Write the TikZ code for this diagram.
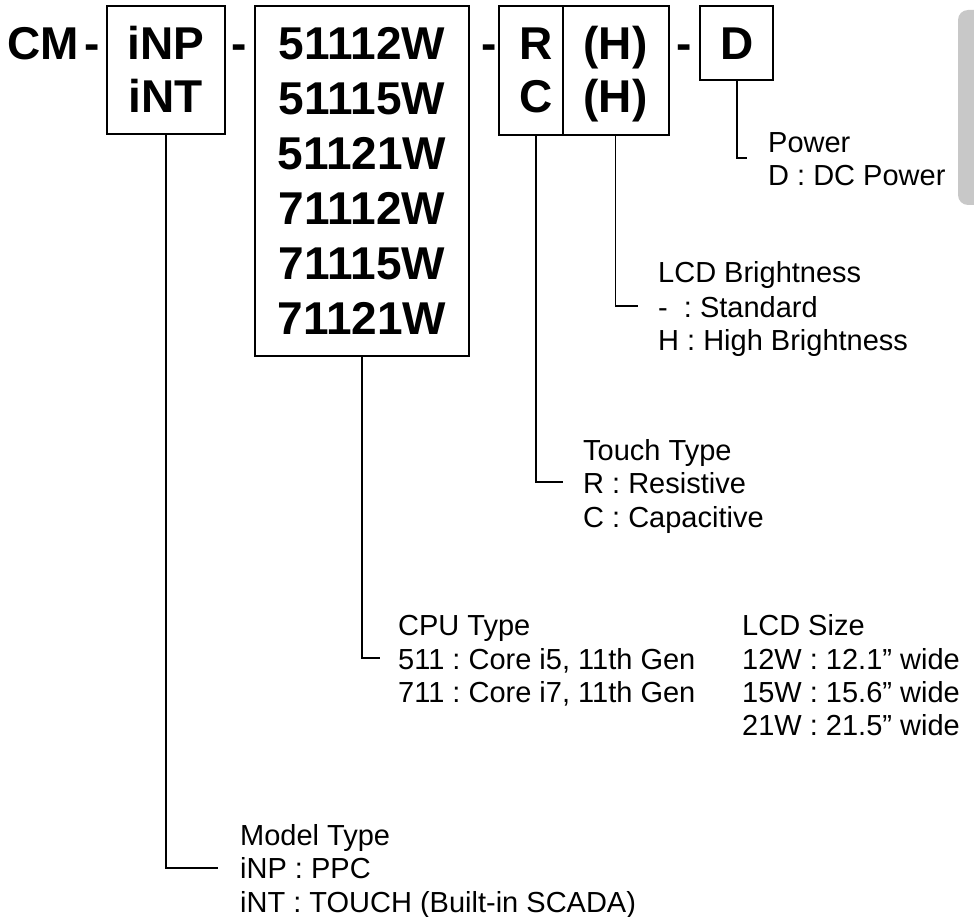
\documentclass[tikz,border=0pt]{standalone}
\usepackage{fontspec}
\setmainfont{Liberation Sans}
\definecolor{tabgray}{RGB}{200,200,200}
\frenchspacing
\begin{document}
\begin{tikzpicture}[x=1pt,y=-1pt,
  boxst/.style={draw, line width=1.4pt, inner sep=0pt},
  big/.style={font=\fontsize{46}{53}\selectfont\bfseries, inner sep=0pt, anchor=base},
  lbl/.style={font=\fontsize{29}{33}\selectfont, inner sep=0pt, anchor=base west},
  conn/.style={draw, line width=1.4pt}]
\useasboundingbox (0,0) rectangle (974,917);
\begin{scope}
\clip (0,0) rectangle (974,917);
\fill[tabgray, rounded corners=10pt] (958,10) rectangle (1000,205);
\end{scope}
% boxes
\node[boxst, minimum width=118pt, minimum height=128pt] (b1) at (166,70) {};
\node[boxst, minimum width=214pt, minimum height=350pt] (b2) at (362,181) {};
\node[boxst, minimum width=64pt, minimum height=129pt] (bR) at (531,70.5) {};
\node[boxst, minimum width=106pt, minimum height=129pt] (bH) at (616,70.5) {};
\node[boxst, minimum width=73pt, minimum height=74pt] (bD) at (736.5,43) {};
% big texts
\node[big, anchor=base west] (tCM) at (7.5,60) {CM};
\node[big, anchor=base west] (d1) at (84,60) {-};
\node[big, anchor=base west] (d2) at (231,60) {-};
\node[big, anchor=base west] (d3) at (481,60) {-};
\node[big, anchor=base west] (d4) at (676,60) {-};
\node[big] (tiNP) at (166,60) {iNP};
\node[big] (tiNT) at (166,113) {iNT};
\node[big] (m1) at (362,60) {51112W};
\node[big] (m2) at (362,114.8) {51115W};
\node[big] (m3) at (362,169.6) {51121W};
\node[big] (m4) at (362,224.4) {71112W};
\node[big] (m5) at (362,279.2) {71115W};
\node[big] (m6) at (362,334) {71121W};
\node[big] (tR) at (536,60) {R};
\node[big] (tC) at (536,113) {C};
\node[big] (tH1) at (615.5,60) {(H)};
\node[big] (tH2) at (615.5,113) {(H)};
\node[big] (tD) at (737,60) {D};
% labels
\node[lbl] (pw1) at (768,153) {Power};
\node[lbl] (pw2) at (768,186) {D : DC Power};
\node[lbl] (lb1) at (658,283) {LCD Brightness};
\node[lbl] (lb2) at (658,317) {-\ \ : Standard};
\node[lbl] (lb3) at (658,350) {H : High Brightness};
\node[lbl] (tt1) at (583,460) {Touch Type};
\node[lbl] (tt2) at (583,493) {R : Resistive};
\node[lbl] (tt3) at (583,527) {C : Capacitive};
\node[lbl] (cp1) at (398,635) {CPU Type};
\node[lbl] (cp2) at (398,669) {511 : Core i5, 11th Gen};
\node[lbl] (cp3) at (398,702) {711 : Core i7, 11th Gen};
\node[lbl] (ls1) at (742,635) {LCD Size};
\node[lbl] (ls2) at (742,669) {12W : 12.1” wide};
\node[lbl] (ls3) at (742,702) {15W : 15.6” wide};
\node[lbl] (ls4) at (742,735) {21W : 21.5” wide};
\node[lbl] (mt1) at (240,845) {Model Type};
\node[lbl] (mt2) at (240,878) {iNP : PPC};
\node[lbl] (mt3) at (240,912) {iNT : TOUCH (Built-in SCADA)};
% connector ends
\coordinate (ePw) at (747,158);
\coordinate (eLb) at (638,306);
\coordinate (eTt) at (563,482);
\coordinate (eCp) at (380,658);
\coordinate (eMt) at (218,868);
% connectors
\draw[conn] (bD.south -| tD.south) |- (ePw);
\draw[conn] (bH.south -| tH2.south) |- (eLb);
\draw[conn] (bR.south -| tC.south) |- (eTt);
\draw[conn] (b2.south) |- (eCp);
\draw[conn] (b1.south) |- (eMt);
\end{tikzpicture}
\end{document}
